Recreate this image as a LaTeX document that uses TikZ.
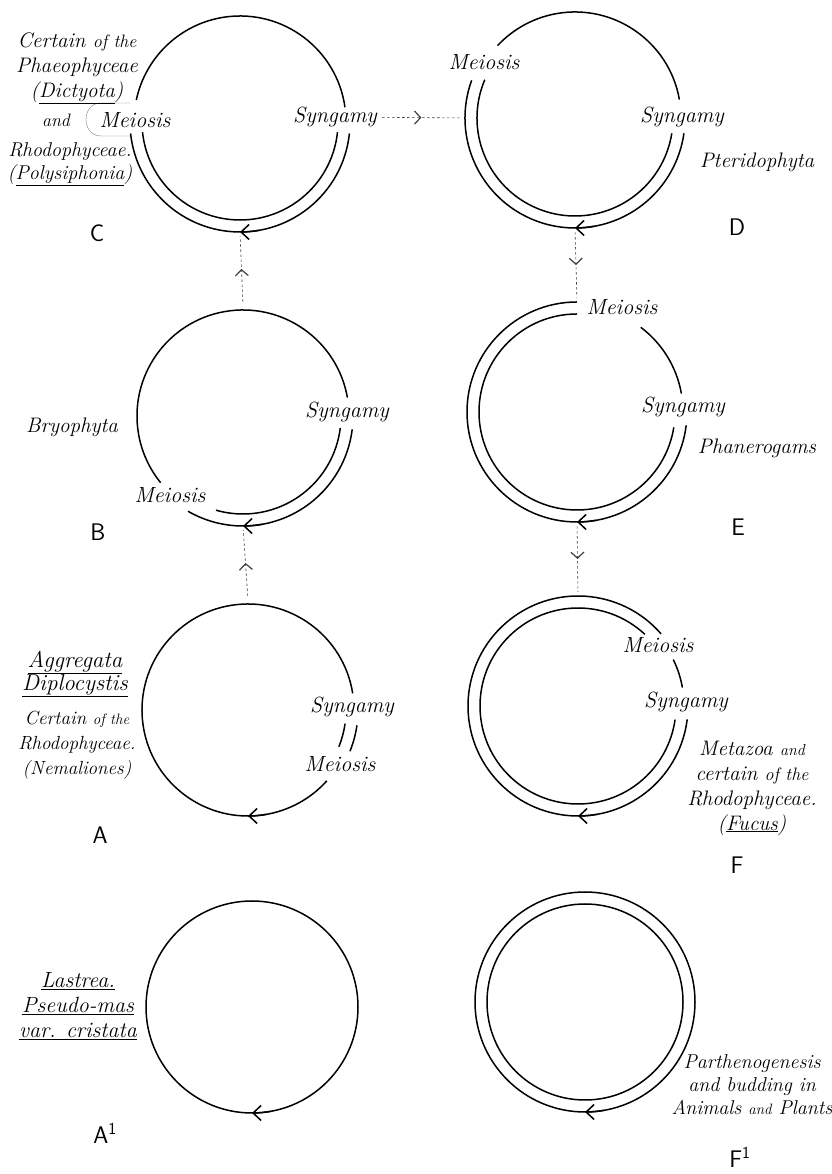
\documentclass[tikz,border=0pt]{standalone}
\usepackage{fontspec}
\usetikzlibrary{arrows.meta,decorations.markings}

\begin{document}
\begin{tikzpicture}
 [x=1pt, y=1pt,
  hub/.style={circle, minimum size=220pt, inner sep=0pt, node distance=294pt},
  life/.style={line width=1.5pt},
  turn/.style={line width=1.5pt, -{Straight Barb[length=8pt,width=15pt]}},
  link/.style={line width=0.6pt, black!75, dash pattern=on 2.5pt off 2.5pt, shorten >=4pt, shorten <=4pt,
    postaction={decorate}, decoration={markings, mark=at position 0.5 with {\arrow{Straight Barb[length=6pt,width=13pt,line width=1.2pt]}}}},
  phase/.style={font=\fontsize{22}{26}\selectfont\itshape, inner sep=1pt},
  group/.style={font=\fontsize{21}{25}\selectfont\itshape, align=center, inner sep=1pt},
  letter/.style={font=\fontsize{24}{28}\selectfont\sffamily, inner sep=1pt}]

\useasboundingbox (0,0) rectangle (831,1174);

% centres of the cycles
\node[hub] (C) at (240,1052) {};
\node[hub] (B) [below of=C, xshift=3pt] {};
\node[hub] (A) [below of=B, xshift=5pt] {};
\node[hub] (A1) [below of=A, xshift=4pt, yshift=-3pt] {};
\node[hub] (D) [node distance=335pt, right of=C, yshift=4pt] {};
\node[hub] (E) [below of=D, xshift=2pt] {};
\node[hub] (F) [below of=E, xshift=1pt] {};
\node[hub] (F1) [below of=F, xshift=7pt, yshift=-2pt] {};

% C
\draw[life] ([shift={(8:106pt)}]C.center) arc[start angle=8, end angle=168, radius=106pt];
\draw[life] ([shift={(-6:110pt)}]C.center) arc[start angle=-6, end angle=-174, radius=110pt];
\draw[life] ([shift={(-6:98pt)}]C.center) arc[start angle=-6, end angle=-174, radius=98pt];
\draw[turn] ([shift={(-80:110pt)}]C.center) arc[start angle=-80, end angle=-90, radius=110pt];
\draw[line width=0.4pt, black!50] (130,1071) -- (101,1071) .. controls (81,1071) and (81,1038) .. (101,1038) -- (130,1038);

\node[phase] (meiC) at (135,1054) {Meiosis};
\node[phase] (synC) at (335,1057) {Syngamy};
\node[group] (grpC) at (77,1106) {Certain {\fontsize{18}{20}\selectfont of the}\\Phaeophyceae\\(\underline{Dictyota})};
\node[group, font=\fontsize{18}{20}\selectfont\itshape] (andC) at (56,1054) {and};
\node[group, font=\fontsize{20}{23}\selectfont\itshape] (grpC2) at (70,1010) {Rhodophyceae.\\(\underline{Polysiphonia})};
\node[letter] (labC) at (97,941) {C};

% B
\draw[life] ([shift={(10:106pt)}]B.center) arc[start angle=10, end angle=219, radius=106pt];
\draw[life] ([shift={(-7:110pt)}]B.center) arc[start angle=-7, end angle=-120, radius=110pt];
\draw[life] ([shift={(-7:98pt)}]B.center) arc[start angle=-7, end angle=-106, radius=98pt];
\draw[turn] ([shift={(-80:110pt)}]B.center) arc[start angle=-80, end angle=-90, radius=110pt];

\node[phase] (synB) at (347,762) {Syngamy};
\node[phase] (meiB) at (170,679) {Meiosis};
\node[group] (grpB) at (72,747) {Bryophyta};
\node[letter] (labB) at (98,642) {B};

% A
\draw[life] ([shift={(9:106pt)}]A.center) arc[start angle=9, end angle=318, radius=106pt];
\draw[life] ([shift={(-8:110pt)}]A.center) arc[start angle=-8, end angle=-22, radius=110pt];
\draw[life] ([shift={(-8:98pt)}]A.center) arc[start angle=-8, end angle=-22, radius=98pt];
\draw[turn] ([shift={(-80:106pt)}]A.center) arc[start angle=-80, end angle=-90, radius=106pt];

\node[phase] (synA) at (352,467) {Syngamy};
\node[phase] (meiA) at (340,410) {Meiosis};
\node[group, font=\fontsize{23}{23}\selectfont\itshape] (grpA) at (75,500) {\underline{Aggregata}\\\underline{Diplocystis}};
\node[group, font=\fontsize{19}{25}\selectfont\itshape] (grpA2) at (77,429) {Certain {\fontsize{15}{18}\selectfont of the}\\Rhodophyceae.\\(Nemaliones)};
\node[letter] (labA) at (100,339) {A};

% A1
\draw[life] (A1.center) circle[radius=106pt];
\draw[turn] ([shift={(-80:106pt)}]A1.center) arc[start angle=-80, end angle=-90, radius=106pt];

\node[group, font=\fontsize{22}{25}\selectfont\itshape] (grpA1) at (78,168) {\underline{Lastrea.}\\\underline{Pseudo-mas}\\\underline{var. cristata}};
\node[letter] (labA1) at (105,41) {A\textsuperscript{1}};

% D
\draw[life] ([shift={(10:106pt)}]D.center) arc[start angle=10, end angle=137, radius=106pt];
\draw[life] ([shift={(160:110pt)}]D.center) arc[start angle=160, end angle=352, radius=110pt];
\draw[life] ([shift={(157:98pt)}]D.center) arc[start angle=157, end angle=351, radius=98pt];
\draw[turn] ([shift={(-80:110pt)}]D.center) arc[start angle=-80, end angle=-90, radius=110pt];

\node[phase] (meiD) at (484,1112) {Meiosis};
\node[phase] (synD) at (682,1057) {Syngamy};
\node[group] (grpD) at (757,1012) {Pteridophyta};
\node[letter] (labD) at (737,947) {D};

% E
\draw[life] ([shift={(90:110pt)}]E.center) arc[start angle=90, end angle=353, radius=110pt];
\draw[life] ([shift={(90:98pt)}]E.center) arc[start angle=90, end angle=351, radius=98pt];
\draw[life] ([shift={(10:106pt)}]E.center) arc[start angle=10, end angle=53, radius=106pt];
\draw[turn] ([shift={(-80:110pt)}]E.center) arc[start angle=-80, end angle=-90, radius=110pt];

\node[phase] (meiE) at (622,867) {Meiosis};
\node[phase] (synE) at (683,767) {Syngamy};
\node[group] (grpE) at (757,726) {Phanerogams};
\node[letter] (labE) at (738,647) {E};

% F
\draw[life] ([shift={(41:110pt)}]F.center) arc[start angle=41, end angle=353, radius=110pt];
\draw[life] ([shift={(47:98pt)}]F.center) arc[start angle=47, end angle=352, radius=98pt];
\draw[life] ([shift={(10:106pt)}]F.center) arc[start angle=10, end angle=26, radius=106pt];
\draw[turn] ([shift={(-80:110pt)}]F.center) arc[start angle=-80, end angle=-90, radius=110pt];

\node[phase] (meiF) at (658,529) {Meiosis};
\node[phase] (synF) at (686,472) {Syngamy};
\node[group] (grpF) at (752,386) {Metazoa {\fontsize{16}{18}\selectfont and}\\certain {\fontsize{18}{18}\selectfont of the}\\Rhodophyceae.\\(\underline{Fucus})};
\node[letter] (labF) at (737,309) {F};

% F1
\draw[life] (F1.center) circle[radius=110pt];
\draw[life] (F1.center) circle[radius=98pt];
\draw[turn] ([shift={(-80:110pt)}]F1.center) arc[start angle=-80, end angle=-90, radius=110pt];

\node[group, font=\fontsize{20}{23}\selectfont\itshape] (grpF1) at (752,89) {Parthenogenesis\\and budding in\\Animals {\fontsize{15}{18}\selectfont and} Plants};
\node[letter] (labF1) at (740,17) {F\textsuperscript{1}};

% passages between the cycles
\draw[link] (synC) -- (D.west);
\draw[link] (B.north) -- (C.south);
\draw[link] (A.north) -- (B.south);
\draw[link] (D.south) -- (E.north);
\draw[link] (E.south) -- (F.north);

\end{tikzpicture}
\end{document}
